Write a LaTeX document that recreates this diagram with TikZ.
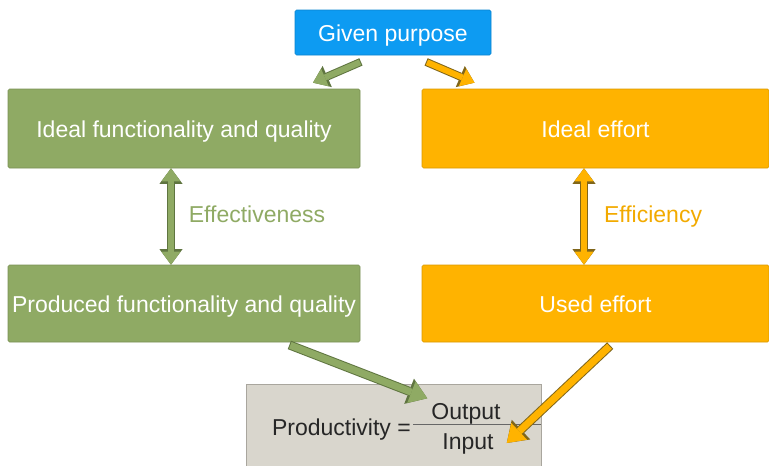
\documentclass[tikz,border=0pt]{standalone}
\usepackage{fontspec}
\setmainfont{Liberation Sans}
\usetikzlibrary{arrows.meta}
\definecolor{purposeblue}{HTML}{0D9BF2}
\definecolor{qualgreen}{HTML}{8FAA64}
\definecolor{qualgreendark}{HTML}{5F7540}
\definecolor{effortorange}{HTML}{FFB300}
\definecolor{effortorangedark}{HTML}{80661A}
\definecolor{prodgray}{HTML}{D9D6CD}
\definecolor{prodgraydark}{HTML}{A9A69E}
\definecolor{prodtext}{HTML}{262626}

\begin{document}
\begin{tikzpicture}[x=1pt,y=-1pt,
		every node/.style={font=\fontsize{23}{27}\selectfont,text height=21pt,text depth=4pt},
		box/.style={rectangle,rounded corners=1.5pt,inner sep=0pt,text=white,fill=#1,draw=#1!85!black,line width=0.6pt},
		label/.style={text=#1,inner sep=0pt},
		headin/.tip={Triangle[length=13pt,width=19pt,line width=0pt]},
		headout/.tip={Triangle[length=15.5pt,width=23pt,line width=0pt]},
		bigin/.tip={Triangle[length=17pt,width=23pt,line width=0pt]},
		bigout/.tip={Triangle[length=19.5pt,width=27pt,line width=0pt]},
		fatto/.style 2 args={draw=#1,line width=6pt,-headin,
			preaction={draw=#2,line width=8pt,shorten <=-1pt,-headout}},
		fatbig/.style 2 args={draw=#1,line width=7pt,-bigin,
			preaction={draw=#2,line width=9pt,shorten <=-1pt,-bigout}},
		fatboth/.style 2 args={draw=#1,line width=6pt,headin-headin,
			preaction={draw=#2,line width=8pt,headout-headout}}]
	\useasboundingbox (0,0) rectangle (769,466);
	\node[box=purposeblue,minimum width=196pt,minimum height=45pt] (purpose) at (393,32.5) {Given purpose};
	\node[box=qualgreen,minimum width=352pt,minimum height=79pt] (idealfq) at (184,128.5) {Ideal functionality and quality};
	\node[box=effortorange,minimum width=347pt,minimum height=79pt] (idealeff) at (595.5,128.5) {Ideal effort};
	\node[box=qualgreen,minimum width=352pt,minimum height=77pt] (prodfq) at (184,303.5) {Produced functionality and quality};
	\node[box=effortorange,minimum width=347pt,minimum height=77pt] (usedeff) at (595.5,303.5) {Used effort};
	\node[rectangle,fill=prodgray,draw=prodgraydark,line width=0.6pt,minimum width=295pt,minimum height=88pt] (prodbox) at (393.5,428) {};
	\node[text=prodtext,inner sep=0pt,anchor=east] (ratio) at (411,427) {Productivity =};
	\node[text=prodtext,inner sep=0pt] (out) at (466,411) {Output};
	\node[text=prodtext,inner sep=0pt] (in) at (468,441) {Input};
	\draw[prodtext!70,line width=0.8pt] ([xshift=2pt,yshift=2.5pt]ratio.east) -- ([yshift=2.5pt]ratio.east -| prodbox.east);
	\node[label=qualgreen] (effect) at (257,214) {Effectiveness};
	\node[label=effortorange!95!black] (effic) at (653,214) {Efficiency};

	\draw[fatto={qualgreen}{qualgreendark}] ([shift={(-33,7)}]purpose.south) -- ([shift={(129,-6)}]idealfq.north);
	\draw[fatto={effortorange}{effortorangedark}] ([shift={(34,7)}]purpose.south) -- ([shift={(-121,-6)}]idealeff.north);
	\draw[fatboth={qualgreen}{qualgreendark}] ([xshift=-13pt]idealfq.south) -- ([xshift=-13pt]prodfq.north);
	\draw[fatboth={effortorange}{effortorangedark}] ([xshift=-11.5pt]idealeff.south) -- ([xshift=-11.5pt]usedeff.north);
	\draw[fatbig={qualgreen}{qualgreendark}] ([shift={(-70,3)}]prodfq.south east) -- ([xshift=-4pt]out.north west);
	\draw[fatbig={effortorange}{effortorangedark}] ([shift={(14,4)}]usedeff.south) -- ([shift={(13,2)}]in.east);
\end{tikzpicture}
\end{document}
